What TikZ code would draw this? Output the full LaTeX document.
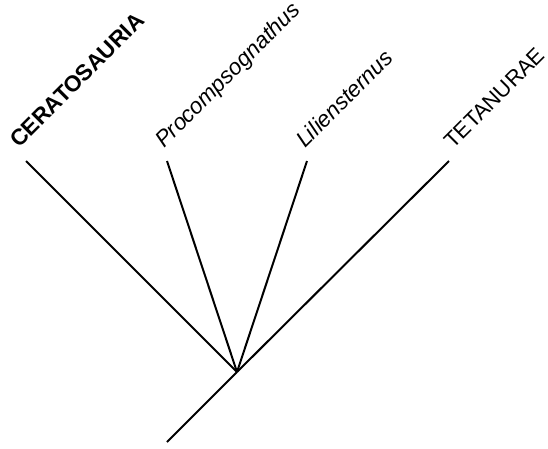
\documentclass[tikz,border=0pt]{standalone}
\usepackage{fontspec}
\setmainfont{Liberation Sans}
\begin{document}
\begin{tikzpicture}[x=1pt,y=-1pt,
  branch/.style={line width=2pt},
  taxon/.style={rotate=45,anchor=base west,inner sep=0pt,font=\fontsize{22.5}{26}\selectfont}]
\useasboundingbox (0,0) rectangle (548,448);
% tree vertices
\coordinate (root) at (167,442);
\coordinate (fork) at (237,372);
\coordinate (tipA) at (26,161);
\coordinate (tipB) at (167,161);
\coordinate (tipC) at (307,161);
\coordinate (tipD) at (449,161);
% branches
\draw[branch] (root) -- (fork);
\draw[branch] (fork) -- (tipA);
\draw[branch] (fork) -- (tipB);
\draw[branch] (fork) -- (tipC);
\draw[branch] (fork) -- (tipD);
% taxon names
\node[taxon,font=\fontsize{22.5}{26}\selectfont\bfseries] (labA) at (19,149) {CERATOSAURIA};
\node[taxon,font=\fontsize{22.5}{26}\selectfont\itshape] (labB) at (164,149) {Procompsognathus};
\node[taxon,font=\fontsize{22.5}{26}\selectfont\itshape] (labC) at (305,149) {Liliensternus};
\node[taxon,font=\fontsize{22}{26}\selectfont] (labD) at (453,150) {TETANURAE};
\end{tikzpicture}
\end{document}
